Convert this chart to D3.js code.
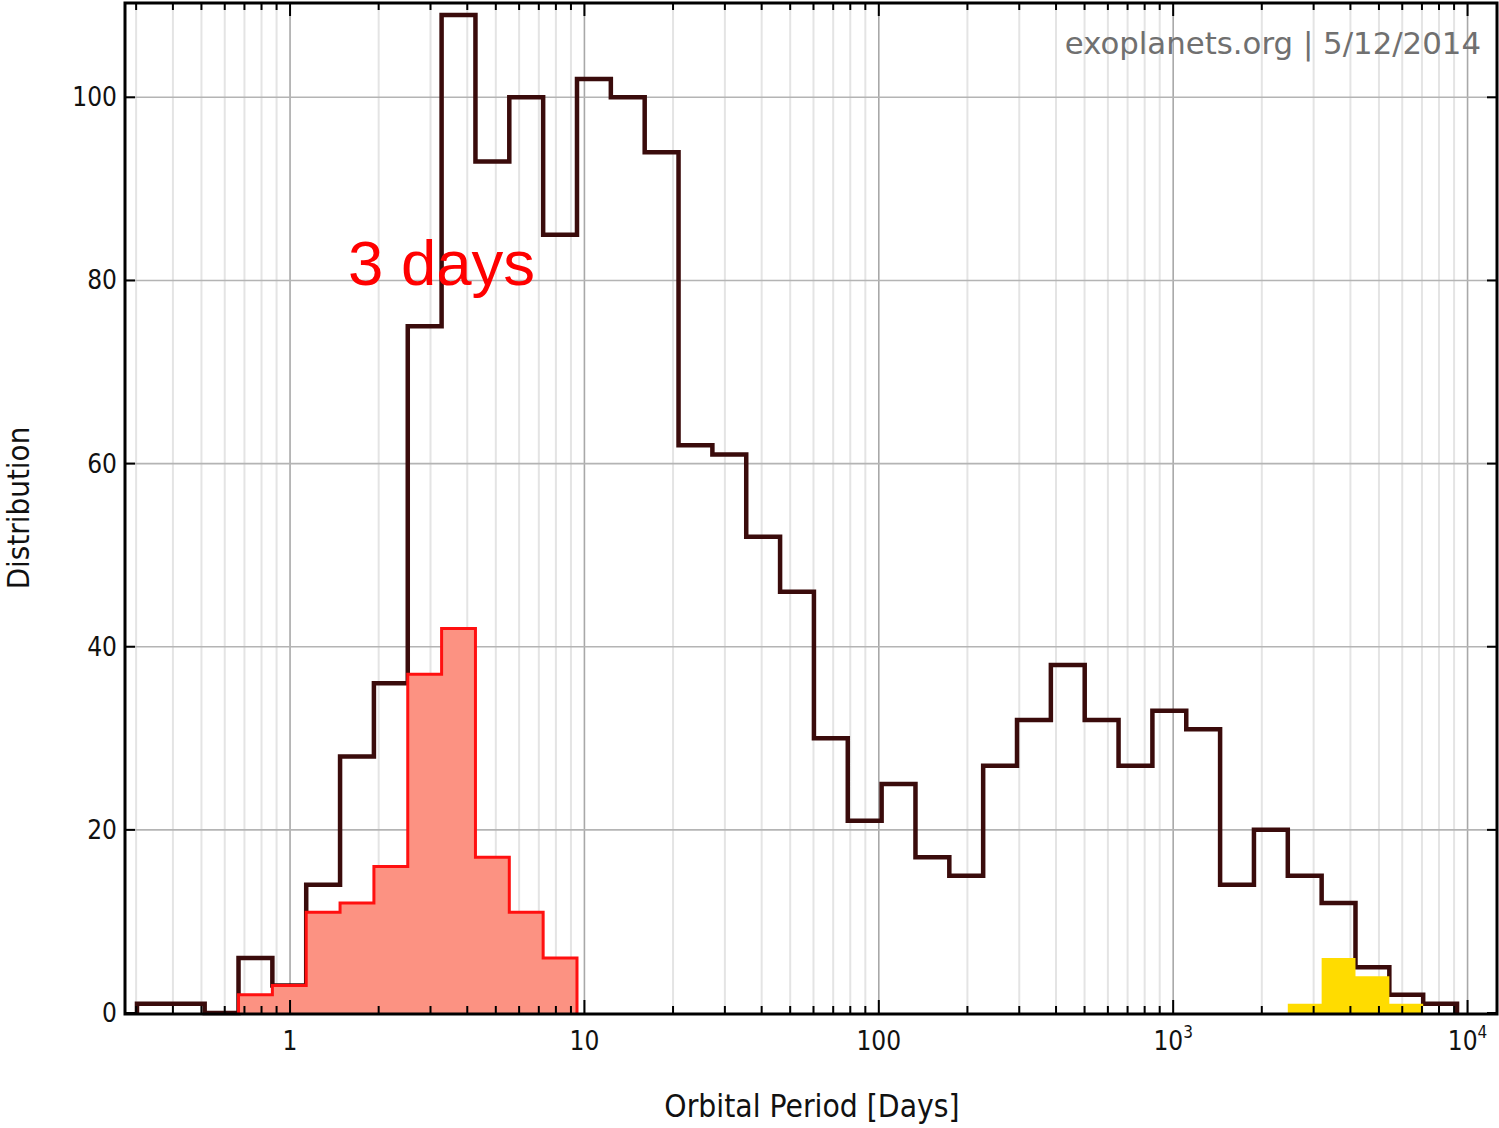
<!DOCTYPE html>
<html><head><meta charset="utf-8">
<script src="https://cdn.jsdelivr.net/npm/d3@7"></script>
<style>body{margin:0;background:#fff}svg{display:block}</style>
</head><body>
<svg id="chart" width="1499" height="1128"></svg>
<script>
// ---- data ----
const binLow = 0.302;      // days, left edge of first bin
const binHigh = 9210;      // days, right edge of last bin
const nBins = 39;
const allPlanets = [1,1,0,6,3,14,28,36,75,109,93,100,85,102,100,94,62,61,52,46,30,21,25,17,15,27,32,38,32,27,33,31,14,20,15,12,5,2,1];
const redStart = 3;
const redValues = [2,3,11,12,16,37,42,17,11,6];
const yellowStart = 34;
const yellowValues = [1,6,4,1];
const xTickValues = [1,10,100,1000,10000];
const xTickLabels = ["1","10","100","10|3","10|4"];
const yTickValues = [0,20,40,60,80,100];

// ---- layout ----
const L = 125, R = 1497, T = 3, B = 1013;
const svg = d3.select("#chart");
const x = d3.scaleLog().domain([0.275, 12590]).range([L, R]);
const y = d3.scaleLinear().domain([0, 110.3]).range([B, T]);

const edges = d3.range(nBins + 1).map(i => binLow * Math.pow(binHigh / binLow, i / nBins));

// grid
const minor = [];
for (let e = -1; e <= 4; e++) for (let m = 2; m <= 9; m++) {
  const v = m * Math.pow(10, e);
  if (v > 0.275 && v < 12590) minor.push(v);
}
const g = svg.append("g");
g.selectAll(".mg").data(minor).join("line")
  .attr("x1", d => x(d)).attr("x2", d => x(d)).attr("y1", T).attr("y2", B)
  .attr("stroke", "#e4e4e4").attr("stroke-width", 2);
g.selectAll(".Mg").data(xTickValues).join("line")
  .attr("x1", d => x(d)).attr("x2", d => x(d)).attr("y1", T).attr("y2", B)
  .attr("stroke", "#a8a8a8").attr("stroke-width", 1.6);
g.selectAll(".hg").data(yTickValues.slice(1)).join("line")
  .attr("x1", L).attr("x2", R).attr("y1", d => y(d)).attr("y2", d => y(d))
  .attr("stroke", "#b4b4b4").attr("stroke-width", 1.6);

function stepPts(start, vals) {
  const pts = vals.map((v, i) => [edges[start + i], v]);
  pts.push([edges[start + vals.length], vals[vals.length - 1]]);
  return pts;
}
const area = d3.area().curve(d3.curveStepAfter).x(d => x(d[0])).y0(y(0)).y1(d => y(d[1]));
const line = d3.line().x(d => x(d[0])).y(d => y(d[1]));
function stepLinePts(start, vals) {
  const out = [[edges[start], 0]];
  vals.forEach((v, i) => { out.push([edges[start + i], v]); out.push([edges[start + i + 1], v]); });
  out.push([edges[start + vals.length], 0]);
  return out;
}

// black total
svg.append("path").attr("d", line(stepLinePts(0, allPlanets)))
  .attr("fill", "none").attr("stroke", "#3a0b0b").attr("stroke-width", 4.5).attr("stroke-linejoin", "miter");
// red
svg.append("path").attr("d", area(stepPts(redStart, redValues))).attr("fill", "#fc9282");
svg.append("path").attr("d", line(stepLinePts(redStart, redValues)))
  .attr("fill", "none").attr("stroke", "#ff1010").attr("stroke-width", 3);
// yellow
svg.append("path").attr("d", area(stepPts(yellowStart, yellowValues))).attr("fill", "#ffdc00");

// frame
svg.append("rect").attr("x", L).attr("y", T).attr("width", R - L).attr("height", B - T + 1)
  .attr("fill", "none").attr("stroke", "#000").attr("stroke-width", 3);

// ticks
const tk = svg.append("g").attr("stroke", "#000").attr("stroke-width", 2);
minor.forEach(v => {
  tk.append("line").attr("x1", x(v)).attr("x2", x(v)).attr("y1", B).attr("y2", B - 7);
  tk.append("line").attr("x1", x(v)).attr("x2", x(v)).attr("y1", T).attr("y2", T + 7);
});
xTickValues.forEach(v => {
  tk.append("line").attr("x1", x(v)).attr("x2", x(v)).attr("y1", B).attr("y2", B - 13);
  tk.append("line").attr("x1", x(v)).attr("x2", x(v)).attr("y1", T).attr("y2", T + 13);
});
yTickValues.forEach(v => {
  tk.append("line").attr("x1", L).attr("x2", L + 10).attr("y1", y(v)).attr("y2", y(v));
  tk.append("line").attr("x1", R).attr("x2", R - 10).attr("y1", y(v)).attr("y2", y(v));
});

const font = "DejaVu Sans Condensed, DejaVu Sans, sans-serif";
// x labels
xTickValues.forEach((v, i) => {
  const parts = xTickLabels[i].split("|");
  const t = svg.append("text").attr("x", x(v)).attr("y", 1050).attr("text-anchor", "middle")
    .attr("font-family", font).attr("font-size", 26).attr("fill", "#111");
  t.append("tspan").text(parts[0]);
  if (parts[1]) t.append("tspan").attr("dy", -12).attr("font-size", 17).text(parts[1]);
});
// y labels
yTickValues.forEach(v => {
  svg.append("text").attr("x", 117).attr("y", y(v) + 9).attr("text-anchor", "end")
    .attr("font-family", font).attr("font-size", 26).attr("fill", "#111").text(v);
});
svg.append("text").attr("x", 812).attr("y", 1117).attr("text-anchor", "middle")
  .attr("font-family", font).attr("font-size", 31.5).attr("fill", "#111").text("Orbital Period [Days]");
svg.append("text").attr("transform", "translate(29,508) rotate(-90)").attr("text-anchor", "middle")
  .attr("font-family", font).attr("font-size", 31).attr("fill", "#111").text("Distribution");
svg.append("text").attr("x", 1481).attr("y", 54).attr("text-anchor", "end")
  .attr("font-family", "DejaVu Sans, sans-serif").attr("font-size", 30.8).attr("fill", "#707070")
  .text("exoplanets.org | 5/12/2014");
svg.append("text").attr("x", 348).attr("y", 285)
  .attr("font-family", "Liberation Sans, Arial, sans-serif").attr("font-size", 63.5).attr("fill", "#ff0000")
  .text("3 days");
</script>
</body></html>
